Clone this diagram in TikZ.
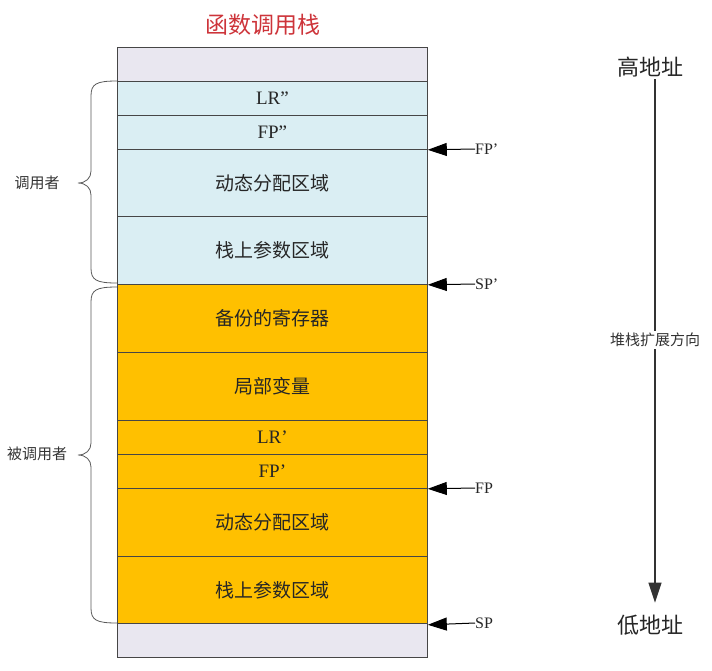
\documentclass[tikz,border=0pt]{standalone}
\usepackage{fontspec}
\setmainfont{Liberation Serif}
\newfontfamily\cjk{Noto Sans CJK SC}
\usetikzlibrary{arrows.meta}

\definecolor{frameGray}{RGB}{233,231,240}
\definecolor{callerBlue}{RGB}{218,238,243}
\definecolor{calleeGold}{RGB}{255,192,0}
\definecolor{titleRed}{RGB}{205,52,58}
\definecolor{edgeGray}{RGB}{70,70,70}

\tikzset{
  cell/.style={draw=edgeGray, line width=0.8pt, minimum width=310pt, inner sep=0pt,
               anchor=north west, text=black!85},
  half/.style={cell, minimum height=34pt},
  full/.style={cell, minimum height=68pt},
  cjktext/.style={font=\cjk\fontsize{19}{19}\selectfont},
  latintext/.style={font=\fontsize{19}{19}\selectfont},
  ptrlabel/.style={anchor=west, inner sep=0pt, font=\fontsize{16}{16}\selectfont, text=black!85},
  ptrarrow/.style={draw=black, line width=1pt, -{Triangle[length=19pt,width=13pt]}},
  sidelabel/.style={font=\cjk\fontsize{15}{15}\selectfont, text=black!80},
  addrlabel/.style={font=\cjk\fontsize{22}{22}\selectfont, text=black!85, inner sep=2pt},
  bracepath/.style={draw=black!65, line width=0.8pt},
}

\begin{document}
\begin{tikzpicture}[x=1pt, y=-1pt]
  \useasboundingbox (0,0) rectangle (712,670);

  % title
  \node[font=\cjk\fontsize{23}{23}\selectfont, text=titleRed] (title) at (263,25) {函数调用栈};

  % stack frames, top to bottom
  \node[half, fill=frameGray]  (r0)  at (117,47)  {};
  \node[half, fill=callerBlue, latintext] (r1) at (117,81) {LR”};
  \node[half, fill=callerBlue, latintext] (r2) at (117,115) {FP”};
  \node[full, fill=callerBlue, cjktext] (r3) at (117,149) {动态分配区域};
  \node[full, fill=callerBlue, cjktext] (r4) at (117,216) {栈上参数区域};
  \node[full, fill=calleeGold, cjktext] (r5) at (117,284) {备份的寄存器};
  \node[full, fill=calleeGold, cjktext] (r6) at (117,352) {局部变量};
  \node[half, fill=calleeGold, latintext] (r7) at (117,420) {LR’};
  \node[half, fill=calleeGold, latintext] (r8) at (117,454) {FP’};
  \node[full, fill=calleeGold, cjktext] (r9) at (117,488) {动态分配区域};
  \node[full, fill=calleeGold, cjktext] (r10) at (117,556) {栈上参数区域};
  \node[half, fill=frameGray]  (r11) at (117,623) {};

  % frame pointers and stack pointers
  \node[ptrlabel] (fpA) at (475,149) {FP’};
  \node[ptrlabel] (spA) at (475,284) {SP’};
  \node[ptrlabel] (fpB) at (475,488) {FP};
  \node[ptrlabel] (spB) at (475,623) {SP};
  \draw[ptrarrow] (fpA.west) -- (r2.south east);
  \draw[ptrarrow] (spA.west) -- (r4.south east);
  \draw[ptrarrow] (fpB.west) -- (r8.south east);
  \draw[ptrarrow] (spB.west) -- (r10.south east);

  % caller / callee braces
  \draw[bracepath] (117,81) .. controls (96,81) and (91,84) .. (91,96) -- (91,171)
    .. controls (91,178) and (86,183) .. (78,183)
    .. controls (86,183) and (91,188) .. (91,195) -- (91,268)
    .. controls (91,280) and (96,283) .. (117,283);
  \draw[bracepath] (117,287) .. controls (96,287) and (91,290) .. (91,302) -- (91,443)
    .. controls (91,450) and (86,455) .. (78,455)
    .. controls (86,455) and (91,460) .. (91,467) -- (91,608)
    .. controls (91,620) and (96,623) .. (117,623);
  \node[sidelabel] (caller) at (37,183) {调用者};
  \node[sidelabel] (callee) at (37,454) {被调用者};

  % address axis
  \node[addrlabel] (hi) at (650,67) {高地址};
  \node[addrlabel] (lo) at (650,625) {低地址};
  \draw[line width=1.2pt, draw=black!80, -{Triangle[length=20pt,width=13pt]}, shorten >=10pt]
    (hi.south -| 655,0) -- (lo.north -| 655,0);
  \node[fill=white, inner sep=2pt, font=\cjk\fontsize{15}{15}\selectfont, text=black!80]
    (dir) at (655,340) {堆栈扩展方向};
\end{tikzpicture}
\end{document}
